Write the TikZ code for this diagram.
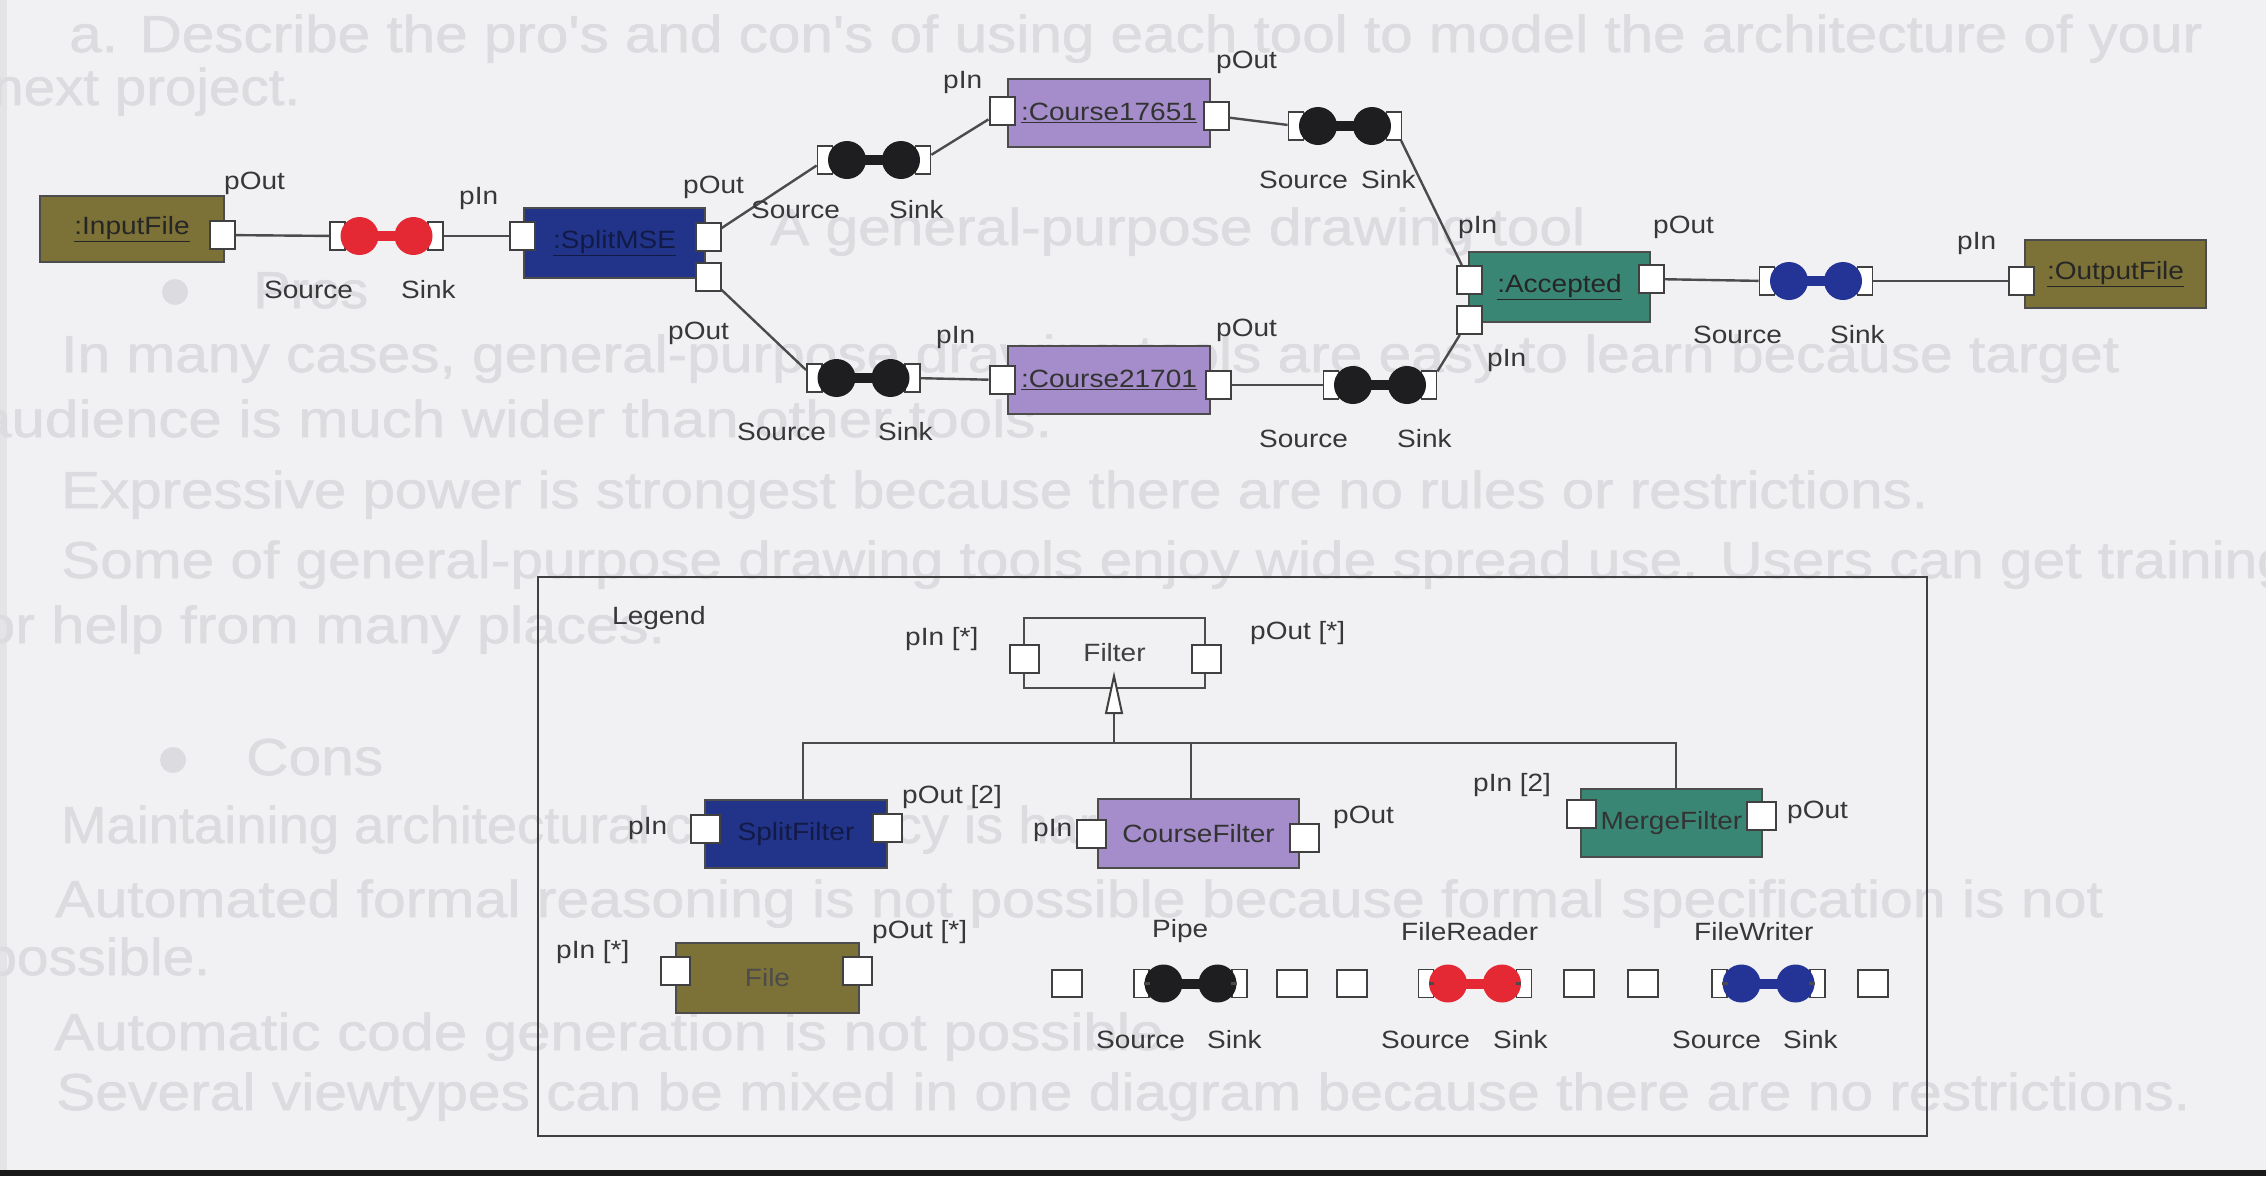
\documentclass[tikz,border=0pt]{standalone}
\usepackage{fontspec}
\usepackage{graphicx}
\setmainfont{Liberation Sans}[FakeStretch=1.12]
\newfontfamily\ghostfam{Liberation Sans}[FakeBold=1]
\usetikzlibrary{calc}

\definecolor{paper}{RGB}{241,241,243}
\definecolor{ghost}{RGB}{220,220,224}
\definecolor{edgeshade}{RGB}{228,228,231}
\definecolor{cOlive}{RGB}{124,113,54}
\definecolor{cNavy}{RGB}{33,52,138}
\definecolor{cLav}{RGB}{164,141,202}
\definecolor{cTeal}{RGB}{58,134,116}
\definecolor{cRed}{RGB}{228,40,52}
\definecolor{cBlue}{RGB}{35,52,150}
\definecolor{cDot}{RGB}{30,30,32}
\definecolor{ink}{RGB}{55,55,58}
\definecolor{wirec}{RGB}{75,75,78}
\definecolor{navytext}{RGB}{18,26,70}

\newcommand\lblfont{\fontsize{25}{25}\selectfont}
\newcommand\ghostfont{\ghostfam\fontsize{52}{52}\selectfont}

\tikzset{
  wire/.style={draw=wirec, line width=2.4pt},
  port/.style={draw=black!75, fill=white, line width=2pt, minimum width=25pt,
    minimum height=28pt, inner sep=0pt},
  lport/.style={port, minimum width=29pt},
  nub/.style={draw=black!75, fill=white, line width=1.8pt, minimum width=15pt,
    minimum height=28pt, inner sep=0pt},
  comp/.style={draw=black!70, line width=2pt, inner sep=0pt, font=\lblfont},
  lbl/.style={anchor=base west, inner sep=0pt, font=\lblfont, text=ink},
  ghosttext/.style={anchor=base west, inner sep=0pt, font=\ghostfont, text=ghost},
}

% connector: name, centre x, centre y, colour
\newcommand\pipeconn[4]{%
  \node[nub] (#1-l) at (#2-49,#3) {};
  \node[nub] (#1-r) at (#2+49,#3) {};
  \node[circle, fill=#4, minimum size=38pt, inner sep=0pt] (#1-a) at (#2-27,#3) {};
  \node[circle, fill=#4, minimum size=38pt, inner sep=0pt] (#1-b) at (#2+27,#3) {};
  \draw[#4, line width=10pt] (#1-a.center) -- (#1-b.center);
}
% text label: name, x, baseline y, text
\newcommand\lab[4]{\node[lbl] (#1) at (#2,#3) {#4};}
% faint page text: name, x, baseline y, width, text
\newcommand\gline[5]{\node[ghosttext] (#1) at (#2,#3) {\resizebox{#4pt}{\height}{#5}};}

\begin{document}
\begin{tikzpicture}[x=1pt,y=-1pt]
\useasboundingbox (0,0) rectangle (2266,1176);
\fill[paper] (0,0) rectangle (2266,1176);
\fill[edgeshade] (0,0) rectangle (7,1170);

% ---- faint slide text behind the diagram ----
\gline{g1}{69}{52}{2133}{a. Describe the pro's and con's of using each tool to model the architecture of your}
\gline{g2}{-8}{105}{308}{next project.}
\gline{g3}{770}{245}{815}{A general-purpose drawing tool}
\fill[ghost] (175,292) circle (13);
\gline{g4}{253}{308}{115}{Pros}
\gline{g5}{61}{372}{2058}{In many cases, general-purpose drawing tools are easy to learn because target}
\gline{g6}{-22}{437}{1074}{audience is much wider than other tools.}
\gline{g7}{61}{508}{1867}{Expressive power is strongest because there are no rules or restrictions.}
\gline{g8}{61}{578}{2229}{Some of general-purpose drawing tools enjoy wide spread use. Users can get training}
\gline{g9}{-18}{643}{683}{or help from many places.}
\fill[ghost] (173,760) circle (13);
\gline{g10}{246}{775}{137}{Cons}
\gline{g11}{61}{843}{1081}{Maintaining architectural consistency is hard.}
\gline{g12}{55}{917}{2048}{Automated formal reasoning is not possible because formal specification is not}
\gline{g13}{-15}{975}{225}{possible.}
\gline{g14}{54}{1050}{1126}{Automatic code generation is not possible.}
\gline{g15}{56}{1110}{2134}{Several viewtypes can be mixed in one diagram because there are no restrictions.}

% ---- architecture diagram ----
\node[comp, fill=cOlive, minimum width=184pt, minimum height=66pt, text=black!85] (inf) at (132,229) {\underline{:InputFile}};
\node[comp, fill=cNavy, minimum width=181pt, minimum height=70pt, text=navytext] (sp) at (614.5,243) {\underline{:SplitMSE}};
\node[comp, fill=cLav, minimum width=202pt, minimum height=68pt, text=black!80] (c1) at (1109,113) {\underline{:Course17651}};
\node[comp, fill=cLav, minimum width=202pt, minimum height=68pt, text=black!80] (c2) at (1109,380) {\underline{:Course21701}};
\node[comp, fill=cTeal, minimum width=181pt, minimum height=70pt, text=black!85] (acc) at (1559.5,287) {\underline{:Accepted}};
\node[comp, fill=cOlive, minimum width=181pt, minimum height=68pt, text=black!85] (outf) at (2115.5,274) {\underline{:OutputFile}};

\node[port] (inf-o) at (222,235) {};
\node[port] (sp-i) at (522,236) {};
\node[port] (sp-o1) at (708,237) {};
\node[port] (sp-o2) at (708,277) {};
\node[port] (c1-i) at (1002,111) {};
\node[port] (c1-o) at (1216,116) {};
\node[port] (c2-i) at (1002,380) {};
\node[port] (c2-o) at (1218,385) {};
\node[port] (acc-i1) at (1469,280) {};
\node[port] (acc-i2) at (1469,320) {};
\node[port] (acc-o) at (1651,279) {};
\node[port] (outf-i) at (2021,281) {};

\pipeconn{red}{386.5}{236}{cRed}
\pipeconn{pu}{874}{160}{cDot}
\pipeconn{pl}{863.5}{378}{cDot}
\pipeconn{pr1}{1345}{126}{cDot}
\pipeconn{pr2}{1380}{385}{cDot}
\pipeconn{blu}{1816}{281}{cBlue}

\draw[wire] (inf-o) -- (red-l);
\draw[wire] (red-r) -- (sp-i);
\draw[wire] (sp-o1) -- (pu-l);
\draw[wire] (sp-o2) -- (pl-l);
\draw[wire] (pu-r) -- (c1-i);
\draw[wire] (pl-r) -- (c2-i);
\draw[wire] (c1-o) -- (pr1-l);
\draw[wire] (c2-o) -- (pr2-l);
\draw[wire] (pr1-r) -- (acc-i1);
\draw[wire] (pr2-r) -- (acc-i2);
\draw[wire] (acc-o) -- (blu-l);
\draw[wire] (blu-r) -- (outf-i);

\lab{t1}{224}{189}{pOut}
\lab{t2}{264}{298}{Source}
\lab{t3}{401}{298}{Sink}
\lab{t4}{459}{204}{pIn}
\lab{t5}{683}{193}{pOut}
\lab{t6}{668}{339}{pOut}
\lab{t7}{751}{218}{Source}
\lab{t8}{889}{218}{Sink}
\lab{t9}{943}{88}{pIn}
\lab{t10}{936}{343}{pIn}
\lab{t11}{737}{440}{Source}
\lab{t12}{878}{440}{Sink}
\lab{t13}{1216}{68}{pOut}
\lab{t14}{1259}{188}{Source}
\lab{t15}{1361}{188}{Sink}
\lab{t16}{1458}{233}{pIn}
\lab{t17}{1653}{233}{pOut}
\lab{t18}{1487}{366}{pIn}
\lab{t19}{1216}{336}{pOut}
\lab{t20}{1259}{447}{Source}
\lab{t21}{1397}{447}{Sink}
\lab{t22}{1693}{343}{Source}
\lab{t23}{1830}{343}{Sink}
\lab{t24}{1957}{249}{pIn}

% ---- legend ----
\node[draw=black!75, line width=2.4pt, minimum width=1389pt, minimum height=559pt, inner sep=0pt] (legend) at (1232.5,856.5) {};
\lab{l0}{612}{624}{Legend}

\node[comp, minimum width=181pt, minimum height=70pt, text=black!75] (flt) at (1114.5,653) {Filter};
\node[lport] (flt-i) at (1024.5,659) {};
\node[lport] (flt-o) at (1206.5,659) {};
\lab{l1}{905}{645}{pIn [*]}
\lab{l2}{1250}{639}{pOut [*]}

\node[comp, fill=cNavy, minimum width=182pt, minimum height=68pt, text=navytext] (sf) at (796,834) {SplitFilter};
\node[lport] (sf-i) at (705.5,829) {};
\node[lport] (sf-o) at (887.5,828) {};
\lab{l3}{628}{834}{pIn}
\lab{l4}{902}{803}{pOut [2]}

\node[comp, fill=cLav, minimum width=201pt, minimum height=69pt, text=black!80] (cf) at (1198.5,833.5) {CourseFilter};
\node[lport] (cf-i) at (1091.5,833.5) {};
\node[lport] (cf-o) at (1304.5,837.5) {};
\lab{l5}{1033}{836}{pIn}
\lab{l6}{1333}{823}{pOut}

\node[comp, fill=cTeal, minimum width=181pt, minimum height=68pt, text=black!80] (mf) at (1671.5,823) {MergeFilter};
\node[lport] (mf-i) at (1581,814) {};
\node[lport] (mf-o) at (1761.5,816) {};
\lab{l7}{1473}{791}{pIn [2]}
\lab{l8}{1787}{818}{pOut}

% generalisation tree
\coordinate (bl) at (803,743);
\coordinate (br) at (1676,743);
\coordinate (bc) at (1191,743);
\coordinate (bm) at (1114,743);
\coordinate (gbase) at (1114,713);
\coordinate (gtip) at (1114,676);
\draw[wire] (sf.north -| bl) -- (bl) -- (br) -- (mf.north -| br);
\draw[wire] (cf.north -| bc) -- (bc);
\draw[wire] (bm) -- (gbase);
\draw[draw=black!75, line width=2pt, fill=white, line join=miter] ($(gbase)+(-8,0)$) -- (gtip) -- ($(gbase)+(8,0)$) -- cycle;

\node[comp, fill=cOlive, minimum width=183pt, minimum height=70pt, text=black!70] (fl) at (767.5,978) {File};
\node[lport] (fl-i) at (675.5,971) {};
\node[lport] (fl-o) at (857.5,971) {};
\lab{l9}{556}{958}{pIn [*]}
\lab{l10}{872}{938}{pOut [*]}

% connector kinds
\node[lport, minimum width=30pt, minimum height=27pt] (lp-a) at (1066.5,983.5) {};
\node[lport, minimum width=30pt, minimum height=27pt] (lp-b) at (1292,983.5) {};
\pipeconn{lp}{1190.5}{983.5}{cDot}
\draw[wire] (lp-a) -- (lp-l);
\draw[wire] (lp-r) -- (lp-b);
\lab{l11}{1152}{937}{Pipe}
\lab{l12}{1096}{1048}{Source}
\lab{l13}{1207}{1048}{Sink}

\node[lport, minimum width=30pt, minimum height=27pt] (fr-a) at (1351.5,983.5) {};
\node[lport, minimum width=30pt, minimum height=27pt] (fr-b) at (1579,983.5) {};
\pipeconn{fr}{1475}{983.5}{cRed}
\draw[wire] (fr-a) -- (fr-l);
\draw[wire] (fr-r) -- (fr-b);
\lab{l14}{1401}{940}{FileReader}
\lab{l15}{1381}{1048}{Source}
\lab{l16}{1493}{1048}{Sink}

\node[lport, minimum width=30pt, minimum height=27pt] (fw-a) at (1642.5,983.5) {};
\node[lport, minimum width=30pt, minimum height=27pt] (fw-b) at (1872.5,983.5) {};
\pipeconn{fw}{1768.5}{983.5}{cBlue}
\draw[wire] (fw-a) -- (fw-l);
\draw[wire] (fw-r) -- (fw-b);
\lab{l17}{1694}{940}{FileWriter}
\lab{l18}{1672}{1048}{Source}
\lab{l19}{1783}{1048}{Sink}

% bottom edge of the sheet
\fill[black!90] (0,1170) rectangle (2266,1176);
\end{tikzpicture}
\end{document}
